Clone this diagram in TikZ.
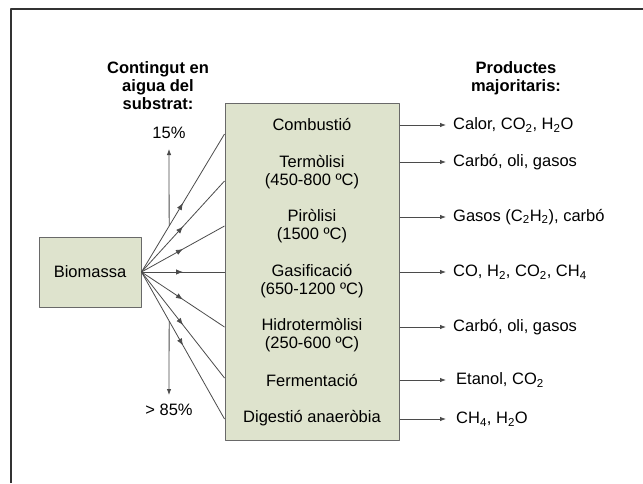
\documentclass[tikz,border=0pt]{standalone}
\usepackage{fontspec}
\setmainfont{Liberation Sans}
\usetikzlibrary{arrows.meta, calc, decorations.markings}

\definecolor{boxfill}{RGB}{222,227,205}
\definecolor{boxline}{RGB}{105,105,105}
\definecolor{lineclr}{RGB}{75,75,75}

\newcommand{\diagfont}{\fontsize{16.5}{18}\selectfont}

\tikzset{
	procbox/.style={draw=boxline, fill=boxfill, line width=1pt},
	fanline/.style={draw=lineclr, line width=0.8pt, postaction=decorate,
		decoration={markings, mark=at position 0.5 with {\arrow{Latex[length=7pt,width=5.5pt]}}}},
	outarrow/.style={draw=lineclr, line width=0.8pt, -{Latex[length=6pt,width=4.5pt]}},
	title/.style={font=\diagfont\bfseries, align=center},
	product/.style={anchor=west, inner xsep=7pt, inner ysep=2pt},
}

\begin{document}
\begin{tikzpicture}[x=1pt, y=-1pt, font=\diagfont, line join=round]
	\useasboundingbox (0,0) rectangle (643,483);
	% frame
	\draw[line width=2pt, black!80] (10.5,483) -- (10.5,8.5) -- (643,8.5);

	% boxes
	\node[procbox, minimum width=102pt, minimum height=70pt] (bio) at (90,272) {Biomassa};
	\node[procbox, minimum width=174pt, minimum height=337pt] (proc) at (312,271.5) {};

	% processes
	\node (comb) at (312,125) {Combusti\'o};
	\node[align=center] (term) at (312,172) {Term\`olisi\\(450-800 ºC)};
	\node[align=center] (piro) at (312,226) {Pir\`olisi\\(1500 ºC)};
	\node[align=center] (gasi) at (312,281) {Gasificaci\'o\\(650-1200 ºC)};
	\node[align=center] (hidr) at (312,335.5) {Hidroterm\`olisi\\(250-600 ºC)};
	\node (ferm) at (312,380) {Fermentaci\'o};
	\node (dige) at (312,418) {Digesti\'o anaer\`obia};

	% headings
	\node[title] (water) at (158,86) {Contingut en\\aigua del\\substrat:};
	\node[title] (prods) at (516,78.5) {Productes\\majoritaris:};

	% products
	\node[product] (p1) at (446,125) {Calor, CO\textsubscript{2}, H\textsubscript{2}O};
	\node[product] (p2) at (446,162) {Carb\'o, oli, gasos};
	\node[product] (p3) at (446,217) {Gasos (C\textsubscript{2}H\textsubscript{2}), carb\'o};
	\node[product] (p4) at (446,272) {CO, H\textsubscript{2}, CO\textsubscript{2}, CH\textsubscript{4}};
	\node[product] (p5) at (446,327) {Carb\'o, oli, gasos};
	\node[product, inner xsep=10pt] (p6) at (446,380) {Etanol, CO\textsubscript{2}};
	\node[product, inner xsep=10pt] (p7) at (446,419) {CH\textsubscript{4}, H\textsubscript{2}O};

	\foreach \p in {p1,p2,p3,p4,p5,p6,p7}
		\draw[outarrow] (proc.east |- \p.west) -- (\p.west);

	% fan from biomass
	\foreach \y [count=\i] in {134,181,226,272,327,378,419}{
		\coordinate (in\i) at (proc.west |- 0,\y);
		\draw[fanline] (bio.east) -- (in\i);
	}

	% water content axis
	\node (dry) at (169,133) {15\%};
	\node (wet) at (169,410) {> 85\%};
	\coordinate (hi) at (169,149);
	\coordinate (lo) at (169,395);
	\draw[outarrow] ($(bio.east)!1/3!(in1)$) -- (hi);
	\draw[outarrow] ($(bio.east)!1/3!(in7)$) -- (lo);
\end{tikzpicture}
\end{document}
